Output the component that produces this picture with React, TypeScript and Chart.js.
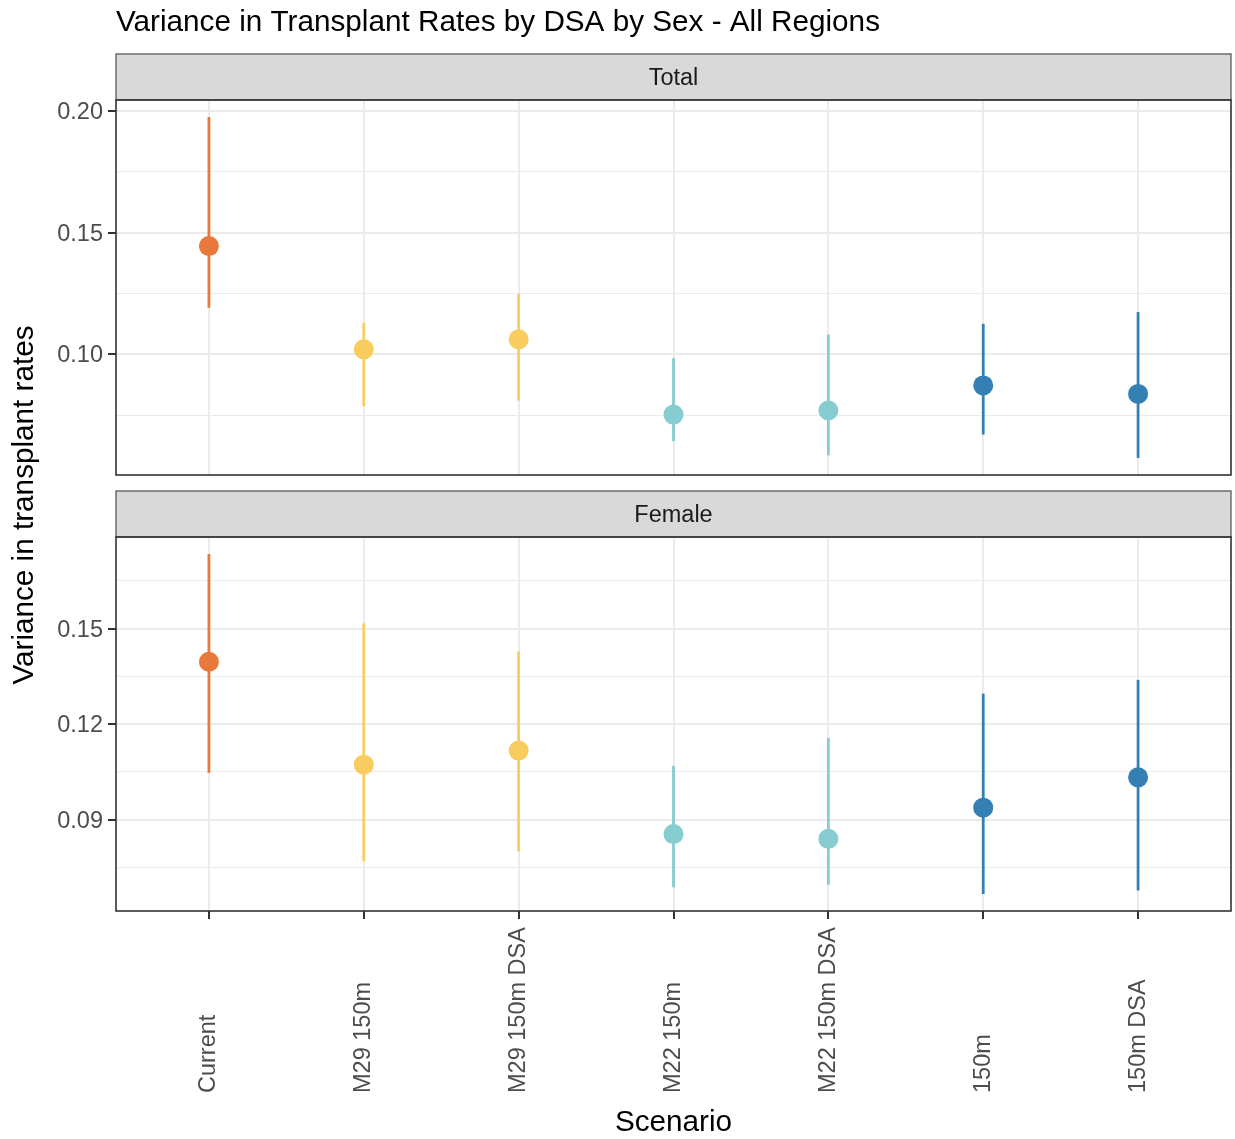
import React, { useEffect, useRef } from 'react';
import { Chart, registerables } from 'chart.js';

Chart.register(...registerables);

// ---------------- Data ----------------
const scenarios = ['Current', 'M29 150m', 'M29 150m DSA', 'M22 150m', 'M22 150m DSA', '150m', '150m DSA'];

const totalMean = [0.1445, 0.1021, 0.1062, 0.0753, 0.077, 0.0873, 0.0838];
const totalLow = [0.1192, 0.0788, 0.0811, 0.0644, 0.0586, 0.0671, 0.0575];
const totalHigh = [0.1975, 0.113, 0.1249, 0.0985, 0.1082, 0.1126, 0.1174];

const femaleMean = [0.1396, 0.1073, 0.1117, 0.0855, 0.084, 0.0938, 0.1033];
const femaleLow = [0.1047, 0.077, 0.0801, 0.0688, 0.0696, 0.0667, 0.0678];
const femaleHigh = [0.1734, 0.1516, 0.1428, 0.1069, 0.1157, 0.1296, 0.1339];

const totalTicks = [0.1, 0.15, 0.2];
const femaleTicks = [0.09, 0.12, 0.15];

const scenarioColors = ['#E8793A', '#F8CC5E', '#F8CC5E', '#86CCD0', '#86CCD0', '#3480B4', '#3480B4'];

const chartTitle = 'Variance in Transplant Rates by DSA by Sex - All Regions';
const yTitle = 'Variance in transplant rates';
const xTitle = 'Scenario';
const stripTop = 'Total';
const stripBottom = 'Female';

// ---------------- Layout ----------------
const FONT = '"Liberation Sans", Arial, Helvetica, sans-serif';
const W = 1235;
const H = 1139;
const PANEL_LEFT = 116;
const PANEL_RIGHT = 1231;
const STRIP_H = 46;
const BOTTOM_CANVAS_TOP = 490;

function paddedRange(low: number[], high: number[]) {
  const lo = Math.min(...low);
  const hi = Math.max(...high);
  const pad = (hi - lo) * 0.05;
  return [lo - pad, hi + pad];
}

function allTicks(major: number[], min: number, max: number) {
  const step = major[1] - major[0];
  const vals: number[] = [];
  vals.push(major[0] - step / 2);
  major.forEach((m) => {
    vals.push(m);
    vals.push(m + step / 2);
  });
  return vals.map((v) => +v.toFixed(6)).filter((v) => v >= min - 1e-9 && v <= max + 1e-9);
}

function isMajor(major: number[], v: any) {
  if (typeof v !== 'number') return false;
  return major.some((m) => Math.abs(m - v) < 1e-6);
}

function makeConfig(p: {
  mean: number[];
  low: number[];
  high: number[];
  major: number[];
  isTop: boolean;
  padding: any;
  xHeight: number;
  strip: string;
  extra: (chart: any) => void;
}) {
  const [min, max] = paddedRange(p.low, p.high);
  const ticks = allTicks(p.major, min, max);

  const errorSets = scenarios.map((s, i) => ({
    type: 'line',
    label: s + ' interval',
    data: [
      { x: i, y: p.low[i] },
      { x: i, y: p.high[i] },
    ],
    borderColor: scenarioColors[i],
    borderWidth: 2.8,
    borderCapStyle: 'butt',
    pointRadius: 0,
    fill: false,
    order: 2,
  }));

  const pointSet = {
    type: 'scatter',
    label: 'Mean',
    data: p.mean.map((v, i) => ({ x: i, y: v })),
    pointRadius: 10,
    pointHoverRadius: 10,
    pointBackgroundColor: scenarioColors,
    pointBorderColor: scenarioColors,
    pointBorderWidth: 0,
    showLine: false,
    order: 1,
  };

  const decor = {
    id: 'decor',
    afterDraw(chart: any) {
      const { ctx, chartArea: a } = chart;
      ctx.save();
      // strip
      ctx.fillStyle = '#D9D9D9';
      ctx.fillRect(a.left, a.top - STRIP_H, a.right - a.left, STRIP_H);
      ctx.strokeStyle = '#595959';
      ctx.lineWidth = 1.3;
      ctx.strokeRect(a.left, a.top - STRIP_H, a.right - a.left, STRIP_H);
      // panel border
      ctx.strokeStyle = '#333333';
      ctx.lineWidth = 1.6;
      ctx.strokeRect(a.left, a.top, a.right - a.left, a.bottom - a.top);
      // strip text
      ctx.fillStyle = '#1A1A1A';
      ctx.font = `23.5px ${FONT}`;
      ctx.textAlign = 'center';
      ctx.textBaseline = 'middle';
      ctx.fillText(p.strip, (a.left + a.right) / 2, a.top - STRIP_H / 2 + 2);
      ctx.restore();
      ctx.save();
      p.extra(chart);
      ctx.restore();
    },
  };

  return {
    type: 'scatter',
    data: { datasets: [...errorSets, pointSet] },
    options: {
      responsive: false,
      maintainAspectRatio: false,
      animation: false,
      events: [],
      layout: { padding: p.padding, autoPadding: false },
      plugins: {
        legend: { display: false },
        tooltip: { enabled: false },
        title: { display: false },
      },
      scales: {
        x: {
          type: 'linear',
          min: -0.6,
          max: scenarios.length - 1 + 0.6,
          afterBuildTicks: (s: any) => {
            s.ticks = scenarios.map((_, i) => ({ value: i }));
          },
          ticks: { display: false },
          grid: {
            color: '#EBEBEB',
            lineWidth: 2,
            drawTicks: !p.isTop,
            tickLength: 8,
            tickColor: '#333333',
            tickWidth: 2,
          },
          border: { display: false },
          afterFit: (s: any) => {
            s.height = p.xHeight;
            s.paddingLeft = 0;
            s.paddingRight = 0;
          },
        },
        y: {
          type: 'linear',
          position: 'left',
          min,
          max,
          afterBuildTicks: (s: any) => {
            s.ticks = ticks.map((v) => ({ value: v }));
          },
          ticks: {
            autoSkip: false,
            padding: 5,
            labelOffset: 1.5,
            color: '#4D4D4D',
            font: { family: FONT, size: 23.5 },
            callback: (v: any) => (isMajor(p.major, v) ? Number(v).toFixed(2) : ''),
          },
          grid: {
            color: '#EBEBEB',
            lineWidth: (c: any) => (isMajor(p.major, c.tick && c.tick.value) ? 2 : 1.1),
            tickLength: 8,
            tickColor: (c: any) => (isMajor(p.major, c.tick && c.tick.value) ? '#333333' : 'rgba(0,0,0,0)'),
            tickWidth: 2,
          },
          border: { display: false },
          afterFit: (s: any) => {
            s.width = PANEL_LEFT;
            s.paddingTop = 0;
            s.paddingBottom = 0;
          },
        },
      },
    },
    plugins: [decor],
  } as any;
}

export default function App() {
  const topRef = useRef<HTMLCanvasElement>(null);
  const botRef = useRef<HTMLCanvasElement>(null);

  useEffect(() => {
    const topCfg = makeConfig({
      mean: totalMean,
      low: totalLow,
      high: totalHigh,
      major: totalTicks,
      isTop: true,
      padding: { top: 100, right: W - PANEL_RIGHT, bottom: H - 475, left: 0 },
      xHeight: 0,
      strip: stripTop,
      extra: (chart: any) => {
        const { ctx } = chart;
        ctx.fillStyle = '#000000';
        ctx.font = `29.7px ${FONT}`;
        ctx.textAlign = 'left';
        ctx.textBaseline = 'alphabetic';
        ctx.fillText(chartTitle, PANEL_LEFT, 31);
        // x title
        ctx.textAlign = 'center';
        ctx.fillText(xTitle, (PANEL_LEFT + PANEL_RIGHT) / 2, 1131);
        // y title
        ctx.translate(25, 505);
        ctx.rotate(-Math.PI / 2);
        ctx.textBaseline = 'middle';
        ctx.fillText(yTitle, 0, 0);
      },
    });

    const botH = H - BOTTOM_CANVAS_TOP;
    const botCfg = makeConfig({
      mean: femaleMean,
      low: femaleLow,
      high: femaleHigh,
      major: femaleTicks,
      isTop: false,
      padding: { top: 537 - BOTTOM_CANVAS_TOP, right: W - PANEL_RIGHT, bottom: 0, left: 0 },
      xHeight: botH - (911 - BOTTOM_CANVAS_TOP),
      strip: stripBottom,
      extra: (chart: any) => {
        const { ctx } = chart;
        const xs = chart.scales.x;
        ctx.fillStyle = '#4D4D4D';
        ctx.font = `23.5px ${FONT}`;
        ctx.textAlign = 'left';
        ctx.textBaseline = 'middle';
        scenarios.forEach((label, i) => {
          const x = xs.getPixelForValue(i);
          ctx.save();
          ctx.translate(x, 1093 - BOTTOM_CANVAS_TOP);
          ctx.rotate(-Math.PI / 2);
          ctx.fillText(label, 0, 0);
          ctx.restore();
        });
      },
    });

    const c1 = new Chart(topRef.current as HTMLCanvasElement, topCfg);
    const c2 = new Chart(botRef.current as HTMLCanvasElement, botCfg);
    return () => {
      c1.destroy();
      c2.destroy();
    };
  }, []);

  return (
    <div style={{ position: 'absolute', left: 0, top: 0, width: W, height: H, background: '#FFFFFF' }}>
      <canvas
        ref={topRef}
        width={W}
        height={H}
        style={{ position: 'absolute', left: 0, top: 0, width: W, height: H }}
      />
      <canvas
        ref={botRef}
        width={W}
        height={H - BOTTOM_CANVAS_TOP}
        style={{ position: 'absolute', left: 0, top: BOTTOM_CANVAS_TOP, width: W, height: H - BOTTOM_CANVAS_TOP }}
      />
    </div>
  );
}
